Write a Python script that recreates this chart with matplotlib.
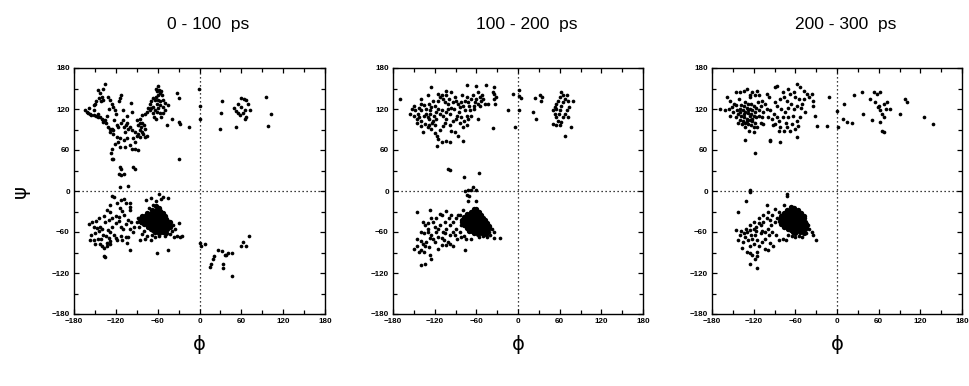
import matplotlib
matplotlib.use("Agg")
import matplotlib.pyplot as plt
from matplotlib.ticker import MultipleLocator

# ---------------- data (phi, psi) ----------------
TITLES = ["0 - 100  ps", "100 - 200  ps", "200 - 300  ps"]
TICKS = [-180, -120, -60, 0, 60, 120, 180]

P1_BETA = [(-136,156),(-139,150),(-145,148),(-143,143),(-140,138),(-144,136),(-148,131),(-141,131),(-138,133),(-150,128),(-152,126),
    (-131,138),(-128,133),(-126,128),(-124,123),(-121,118),(-112,141),(-114,136),(-116,131),(-98,129),(-97,116),
    (-164,118),(-162,116),(-160,114),(-157,113),(-155,111),(-152,111),(-149,110),(-145,109),(-143,108),(-140,106),(-139,104),
    (-138,101),(-134,99),(-131,94),(-128,91),(-126,91),(-124,89),(-129,86),(-146,112),(-135,104),(-133,110),
    (-119,96),(-117,94),(-112,99),(-109,94),(-105,96),(-102,91),(-100,94),(-97,89),(-107,87),(-104,100),(-110,104),
    (-90,104),(-86,106),(-83,111),(-78,113),(-76,116),(-74,121),(-71,118),(-88,96),(-86,89),(-83,87),(-81,84),(-76,81),
    (-78,79),(-86,79),(-90,81),(-92,87),(-88,84),(-84,93),(-80,96),(-82,100),(-78,91),(-85,99),
    (-124,84),(-119,79),(-114,77),(-109,74),(-104,77),(-117,72),(-121,69),(-114,64),(-107,65),(-100,67),(-97,61),(-92,62),(-88,60),
    (-126,62),(-127,55),(-126,47),(-124,47),(-114,35),(-112,32),(-109,25),(-116,25),(-113,23),(-95,35),(-92,32),
    (-114,6),(-102,7),(-122,104),(-120,112),(-130,120),(-152,118),(-158,121),(-110,118),(-104,110),(-96,78),(-93,72)]
P1_PPII = [(-59,153),(-58,148),(-61,146),(-57,143),(-54,141),(-62,138),(-66,136),(-64,133),(-59,133),(-56,131),(-52,133),(-50,129),
    (-61,128),(-57,126),(-53,123),(-59,121),(-66,123),(-69,121),(-64,118),(-61,116),(-67,114),(-57,114),(-52,114),(-50,118),
    (-71,128),(-69,131),(-63,150),(-55,147),(-60,140),(-65,108),(-62,105),(-55,108),
    (-45,126),(-32,143),(-29,136),(-30,101),(-28,98),(-15,93),(-30,47),(-1,149),(0,124),(0,106),(-47,97),(-40,105)]
P1_RIGHT = [(32,132),(31,114),(30,91),(53,94),(50,121),(53,117),(55,114),(58,111),(63,114),(65,106),(60,136),(64,135),
    (67,133),(70,128),(60,123),(55,128),(65,118),(72,118),(67,109),(96,138),(98,95),(103,113)]
P1_ALPHA = [(-125,-7),(-123,-9),(-113,-13),(-109,-12),(-128,-20),(-118,-18),(-106,-18),(-99,-17),(-99,-23),(-99,-28),(-114,-25),
    (-111,-29),(-108,-35),(-132,-28),(-129,-31),(-137,-37),(-144,-40),(-158,-49),(-154,-46),(-152,-52),(-149,-44),(-147,-54),
    (-142,-52),(-140,-56),(-144,-59),(-150,-62),(-156,-64),(-157,-71),(-150,-78),(-137,-95),(-135,-97),
    (-142,-78),(-140,-81),(-137,-83),(-132,-81),(-129,-78),(-128,-73),(-133,-76),(-130,-69),(-123,-64),(-120,-69),(-118,-71),
    (-113,-66),(-111,-71),(-106,-68),(-104,-76),(-102,-68),(-99,-86),
    (-125,-52),(-120,-47),(-116,-44),(-113,-52),(-110,-56),(-105,-49),(-102,-42),(-98,-45),(-135,-45),(-131,-57),(-128,-60),
    (-138,-64),(-146,-70),(-152,-72),(-141,-70),(-134,-66),(-126,-40),(-120,-36),(-116,-38),(-130,-43),(-100,-55),(-96,-60),(-94,-52),
    (-85,-72),(-78,-70),(-70,-72),(-61,-90),(-45,-87),(-37,-68),(-32,-66),(-28,-67),(-25,-66),(-30,-47),(-45,-10),(-58,-5),
    (-63,-15),(-84,-47),(-87,-52),(-80,-59),(-82,-63),(-75,-66),(-68,-64),(-64,-67),(-58,-66),(-50,-66),(-42,-63),(-40,-58),
    (-35,-55),(-38,-50),(-77,-13),(-70,-10),(-55,-12),(-52,-9),(-66,-20),(-72,-25),(-88,-40),(-90,-45)]
P1_CORE = [(-62,-22),(-58,-25),(-68,-28),(-64,-29),(-60,-28),(-56,-29),(-76,-32),(-72,-33),(-68,-32),(-64,-33),(-60,-32),
    (-56,-33),(-52,-32),(-82,-36),(-78,-37),(-74,-36),(-70,-37),(-66,-36),(-62,-37),(-58,-36),(-54,-37),(-50,-36),
    (-84,-40),(-80,-41),(-76,-40),(-72,-41),(-68,-40),(-64,-41),(-60,-40),(-56,-41),(-52,-40),(-48,-41),
    (-86,-44),(-82,-45),(-78,-44),(-74,-45),(-70,-44),(-66,-45),(-62,-44),(-58,-45),(-54,-44),(-50,-45),(-46,-44),(-42,-45),
    (-80,-48),(-76,-49),(-72,-48),(-68,-49),(-64,-48),(-60,-49),(-56,-48),(-52,-49),(-48,-48),(-44,-49),
    (-74,-52),(-70,-53),(-66,-52),(-62,-53),(-58,-52),(-54,-53),(-50,-52),(-46,-53),(-42,-52),
    (-70,-56),(-66,-57),(-62,-56),(-58,-57),(-54,-56),(-50,-57),(-46,-56),(-64,-60),(-58,-61),(-52,-60),(-48,-61)]
P1_LOWRIGHT = [(1,-76),(2,-81),(8,-78),(17,-107),(15,-111),(20,-100),(21,-95),(26,-86),(32,-88),(38,-93),(41,-91),(46,-91),
    (33,-107),(34,-113),(46,-125),(60,-81),(62,-75),(67,-81),(71,-66),(36,-93)]

P2_BETA = [(-170,135),(-125,152),(-103,147),(-73,155),(-60,153),(-46,155),(-34,152),(-36,145),(-34,142),(-31,137),(-35,135),(-33,128),
    (-115,142),(-110,140),(-113,137),(-108,135),(-115,132),(-105,130),(-101,128),
    (-153,120),(-155,113),(-142,122),(-139,118),(-144,113),(-142,108),(-146,105),(-139,103),(-134,98),(-137,87),(-130,93),
    (-125,91),(-120,96),(-122,103),(-130,108),(-132,113),(-127,118),(-125,123),(-120,125),(-115,120),(-110,118),(-113,113),
    (-108,110),(-103,115),(-101,120),(-96,122),(-98,113),(-103,105),(-105,100),(-98,96),(-96,88),(-91,86),(-86,81),(-79,73),
    (-115,76),(-110,71),(-103,73),(-98,71),(-116,66),
    (-91,137),(-89,132),(-86,128),(-84,123),(-82,130),(-79,125),(-77,132),(-74,137),(-72,130),(-70,125),(-67,135),(-65,140),
    (-62,130),(-60,135),(-58,128),(-55,137),(-53,132),(-48,128),(-43,128),(-77,118),(-74,110),(-72,105),(-67,110),(-58,105),
    (-74,96),(-79,93),(-84,100),(-89,105),(-94,103),(-36,92),
    (-128,105),(-124,100),(-127,112),(-121,110),(-118,105),(-133,120),(-136,126),(-128,128),(-122,131),(-118,116),(-140,128),
    (-148,118),(-150,110),(-135,110),(-120,85),(-117,80),(-112,89),(-108,95),(-92,120),(-94,130),(-99,135),(-104,140),(-96,145),
    (-80,140),(-85,115),(-88,110),(-82,108),(-78,102),(-64,125),(-69,118),(-63,120),(-55,125),(-50,135),(-52,140),(-57,145),
    (-128,97),(-140,95),(-145,100),(-150,125),(-139,135),(-130,140),
    (-14,119),(-5,93),(2,118),(1,139),(1,148),(4,136),(-7,142),(-101,32),(-98,31),(-78,20),(-56,26)]
P2_RIGHT = [(22,115),(26,106),(24,136),(31,140),(35,138),(33,131),
    (62,145),(65,140),(60,137),(58,132),(55,128),(53,123),(50,118),(53,113),(55,108),(58,103),(60,118),(62,125),(65,130),
    (67,135),(70,140),(72,132),(79,132),(74,123),(71,118),(67,113),(65,108),(62,101),(60,96),(50,98),(55,97),(77,93),(67,80),
    (72,108),(55,120),(59,113)]
P2_ALPHA = [(-146,-30),(-127,-28),(-103,-29),(-110,-35),(-113,-33),(-137,-45),(-134,-50),(-130,-47),(-125,-40),(-122,-45),
    (-120,-52),(-115,-55),(-118,-60),(-125,-65),(-127,-69),(-132,-74),(-137,-77),(-134,-81),(-139,-86),(-142,-89),(-136,-89),
    (-127,-94),(-125,-99),(-139,-108),(-134,-107),
    (-115,-67),(-110,-69),(-106,-72),(-101,-74),(-98,-77),(-103,-79),(-94,-81),(-110,-79),(-108,-60),(-103,-55),(-98,-50),
    (-94,-45),(-89,-40),(-86,-35),(-94,-60),(-98,-65),(-91,-65),(-84,-60),(-82,-50),
    (-79,-28),(-84,-35),(-76,-86),(-74,-6),(-72,1),(-70,-8),(-67,2),(-65,6),(-60,1),(-77,0),(-72,-15),(-60,-15),
    (-34,-69),(-26,-69),(-40,-65),(-38,-55),(-42,-60),(-35,-60),(-44,-68),(-50,-66),(-56,-68),
    (-150,-85),(-145,-70),(-140,-60),(-130,-55),(-120,-75),(-115,-85),(-128,-82),(-122,-70),(-112,-50),(-105,-45),(-118,-40),
    (-135,-62),(-130,-60),(-145,-80),(-140,-73),(-100,-40),(-96,-35),(-90,-55),(-88,-70),(-82,-68),(-78,-66),(-75,-70),
    (-68,-70),(-105,-62)]
P2_CORE = [(-64,-26),(-60,-27),(-68,-30),(-64,-31),(-60,-30),(-56,-31),(-74,-34),(-70,-35),(-66,-34),(-62,-35),(-58,-34),(-54,-35),
    (-78,-38),(-74,-39),(-70,-38),(-66,-39),(-62,-38),(-58,-39),(-54,-38),(-50,-39),
    (-80,-42),(-76,-43),(-72,-42),(-68,-43),(-64,-42),(-60,-43),(-56,-42),(-52,-43),(-48,-42),
    (-80,-46),(-76,-47),(-72,-46),(-68,-47),(-64,-46),(-60,-47),(-56,-46),(-52,-47),(-48,-46),(-44,-47),
    (-78,-50),(-74,-51),(-70,-50),(-66,-51),(-62,-50),(-58,-51),(-54,-50),(-50,-51),(-46,-50),(-42,-51),
    (-74,-54),(-70,-55),(-66,-54),(-62,-55),(-58,-54),(-54,-55),(-50,-54),(-46,-55),(-42,-54),
    (-70,-58),(-66,-59),(-62,-58),(-58,-59),(-54,-58),(-50,-59),(-46,-58),(-64,-62),(-58,-63),(-52,-62),(-46,-63)]

P3_BETA = [(-168,120),(-161,118),(-158,137),(-154,132),(-146,145),(-139,145),(-134,147),(-130,150),(-122,145),(-115,147),
    (-118,140),(-125,137),(-141,135),(-149,127),(-151,123),(-156,120),(-154,110),(-146,108),(-142,100),(-137,98),(-132,93),
    (-127,88),(-120,86),(-115,93),(-110,100),(-108,108),(-106,115),(-101,120),(-103,127),(-98,137),(-101,142),(-89,152),
    (-86,154),(-77,137),(-72,132),(-67,142),(-62,145),(-58,157),(-53,152),(-48,147),(-43,142),(-41,137),(-36,142),(-34,132),
    (-34,125),(-46,116),(-53,108),(-58,103),(-65,98),(-72,93),(-77,88),(-82,93),(-84,103),(-86,108),(-91,113),(-96,118),
    (-94,105),(-89,98),(-84,88),(-67,88),(-60,91),(-57,79),(-96,74),(-82,71),(-132,75),(-118,55),(-97,73),
    (-140,115),(-136,118),(-132,116),(-128,114),(-124,112),(-120,110),(-138,110),(-134,108),(-130,106),(-126,104),(-122,102),
    (-136,102),(-132,100),(-128,98),(-124,96),(-140,120),(-134,124),(-130,122),(-126,120),(-122,118),(-118,116),(-116,108),
    (-118,100),(-142,112),(-144,118),(-128,128),(-124,128),(-120,125),(-116,122),(-112,118),(-132,130),(-138,126),(-130,102),
    (-126,110),(-134,112),(-122,106),(-128,118),(-140,104),(-120,94),(-112,110),(-110,125),(-114,130),(-108,132),(-145,126),
    (-150,115),(-126,140),(-112,140),(-106,98),(-100,108),(-80,120),(-75,115),(-70,122),(-66,128),(-62,120),(-58,125),
    (-55,135),(-60,138),(-64,110),(-70,108),(-74,100),(-78,108),(-86,125),(-90,130),(-82,135),(-78,145),(-70,150),(-50,128),
    (-52,122),(-48,135),(-92,96),(-56,95),
    (-31,110),(-29,95),(-15,95),(-11,137),(0,117),(1,93),(10,127),(9,105),(14,101),(22,100),(25,141),(36,145),(38,112)]
P3_RIGHT = [(48,135),(53,145),(58,142),(62,145),(55,130),(60,125),(62,118),(65,113),(67,108),(62,101),(65,88),(67,86),(70,120),
    (77,120),(72,130),(67,127),(59,123),(50,104),(91,113),(98,134),(101,130),(125,109),(138,98)]
P3_ALPHA = [(-126,1),(-126,-1),(-131,-15),(-72,-5),(-72,-8),(-143,-31),
    (-146,-57),(-142,-72),(-137,-84),(-130,-89),(-125,-91),(-122,-94),(-115,-95),(-115,-89),(-118,-99),(-125,-107),(-115,-113),
    (-101,-21),(-89,-26),(-84,-30),(-94,-35),(-96,-42),(-101,-40),(-106,-45),(-110,-50),(-113,-47),(-117,-52),(-120,-55),
    (-125,-57),(-130,-60),(-134,-62),(-138,-58),(-140,-65),(-132,-68),(-128,-72),(-122,-70),(-118,-65),(-115,-72),(-120,-78),
    (-126,-80),(-112,-80),(-108,-75),(-103,-70),(-98,-65),(-104,-60),(-108,-58),(-100,-55),(-95,-50),(-90,-45),(-86,-40),
    (-82,-45),(-94,-60),(-88,-65),(-96,-76),(-92,-80),(-84,-72),(-78,-70),(-74,-72),(-104,-85),(-100,-87),(-110,-62),
    (-116,-58),(-124,-65),(-136,-75),(-131,-55),(-126,-50),(-120,-45),(-112,-40),(-106,-35),(-100,-30),(-80,-35),(-76,-20),
    (-40,-55),(-36,-60),(-34,-65),(-30,-72),(-45,-62),(-50,-68),(-55,-66),(-60,-68),(-65,-66),(-70,-64),(-42,-50)]
P3_CORE = [(-66,-24),(-62,-25),(-72,-28),(-68,-29),(-64,-28),(-60,-29),(-56,-28),(-76,-32),(-72,-33),(-68,-32),(-64,-33),
    (-60,-32),(-56,-33),(-52,-32),(-80,-36),(-76,-37),(-72,-36),(-68,-37),(-64,-36),(-60,-37),(-56,-36),(-52,-37),(-48,-36),
    (-80,-40),(-76,-41),(-72,-40),(-68,-41),(-64,-40),(-60,-41),(-56,-40),(-52,-41),(-48,-40),
    (-82,-44),(-78,-45),(-74,-44),(-70,-45),(-66,-44),(-62,-45),(-58,-44),(-54,-45),(-50,-44),(-46,-45),
    (-80,-48),(-76,-49),(-72,-48),(-68,-49),(-64,-48),(-60,-49),(-56,-48),(-52,-49),(-48,-48),(-44,-49),
    (-76,-52),(-72,-53),(-68,-52),(-64,-53),(-60,-52),(-56,-53),(-52,-52),(-48,-53),(-44,-52),
    (-70,-56),(-66,-57),(-62,-56),(-58,-57),(-54,-56),(-50,-57),(-46,-56),(-64,-60),(-60,-61),(-54,-60),(-48,-61)]

SCATTER = [
    P1_BETA + P1_PPII + P1_RIGHT + P1_ALPHA + P1_LOWRIGHT,
    P2_BETA + P2_RIGHT + P2_ALPHA,
    P3_BETA + P3_RIGHT + P3_ALPHA,
]
CORES = [P1_CORE, P2_CORE, P3_CORE]

# ---------------- layout ----------------
W, H = 969, 386
fig = plt.figure(figsize=(W / 100, H / 100), dpi=100)
lefts = [74, 393, 712]
widths = [251, 250, 250]
tickfont = dict(family=["Liberation Sans", "DejaVu Sans"], size=5.8, weight="bold")

for i in range(3):
    ax = fig.add_axes([lefts[i] / W, 72 / H, widths[i] / W, 246 / H])
    pts = SCATTER[i]
    ax.scatter([p[0] for p in pts], [p[1] for p in pts], s=7, c="black", marker="o", linewidths=0, zorder=3)
    core = CORES[i]
    ax.scatter([p[0] for p in core], [p[1] for p in core], s=15, c="black", marker="o", linewidths=0, zorder=3)
    ax.axhline(0, color="black", lw=0.9, ls=(0, (1, 2.2)), zorder=2)
    ax.axvline(0, color="black", lw=0.9, ls=(0, (1, 2.2)), zorder=2)
    ax.set_xlim(-180, 180)
    ax.set_ylim(-180, 180)
    ax.set_xticks(TICKS)
    ax.set_yticks(TICKS)
    ax.xaxis.set_minor_locator(MultipleLocator(30))
    ax.yaxis.set_minor_locator(MultipleLocator(30))
    ax.tick_params(which="both", direction="in", top=True, right=True, width=0.9, color="black")
    ax.tick_params(which="major", length=3.5, pad=3)
    ax.tick_params(which="minor", length=3.0)
    for lab in ax.get_xticklabels() + ax.get_yticklabels():
        lab.set_fontproperties(matplotlib.font_manager.FontProperties(**tickfont))
    for sp in ax.spines.values():
        sp.set_linewidth(1.0)
    cx = (lefts[i] + widths[i] / 2) / W
    fig.text(cx + 9 / W, 1 - 25 / H, TITLES[i], ha="center", va="center",
             fontsize=12.5, family=["Liberation Sans", "DejaVu Sans"])
    fig.text(cx, 1 - 344 / H, "ϕ", ha="center", va="center", fontsize=14, family="DejaVu Sans")

fig.text(20 / W, 1 - 192 / H, "ψ", ha="center", va="center", fontsize=14, rotation=90, family="DejaVu Sans")

fig.savefig("out.png", dpi=100, facecolor="white")
